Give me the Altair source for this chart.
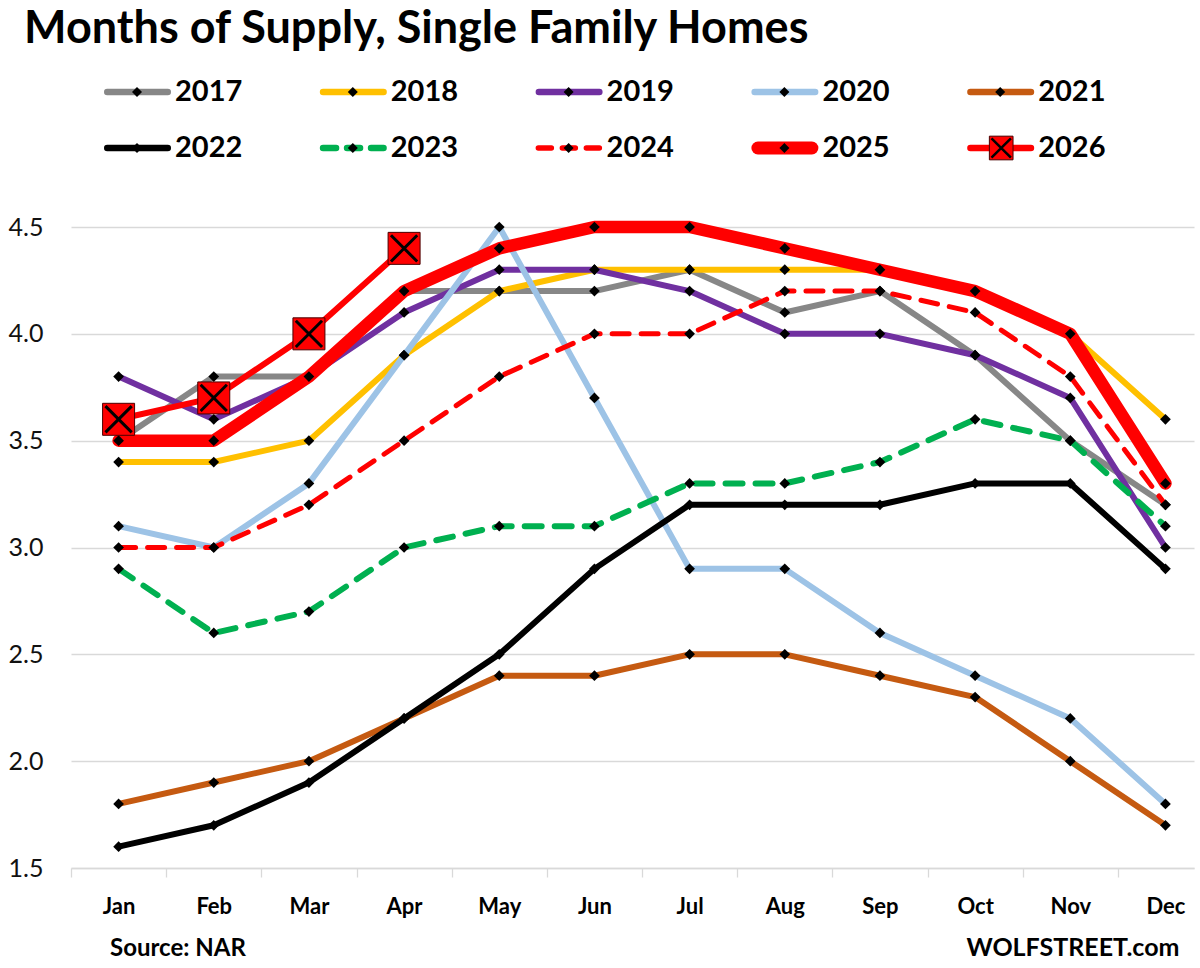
import altair as alt
import pandas as pd

# Months of supply of single-family homes, by year (NAR)
months = ["Jan", "Feb", "Mar", "Apr", "May", "Jun", "Jul", "Aug", "Sep", "Oct", "Nov", "Dec"]
years = ["2017", "2018", "2019", "2020", "2021", "2022", "2023", "2024", "2025", "2026"]

supply_2017 = [3.5, 3.8, 3.8, 4.2, 4.2, 4.2, 4.3, 4.1, 4.2, 3.9, 3.5, 3.2]
supply_2018 = [3.4, 3.4, 3.5, 3.9, 4.2, 4.3, 4.3, 4.3, 4.3, 4.2, 4.0, 3.6]
supply_2019 = [3.8, 3.6, 3.8, 4.1, 4.3, 4.3, 4.2, 4.0, 4.0, 3.9, 3.7, 3.0]
supply_2020 = [3.1, 3.0, 3.3, 3.9, 4.5, 3.7, 2.9, 2.9, 2.6, 2.4, 2.2, 1.8]
supply_2021 = [1.8, 1.9, 2.0, 2.2, 2.4, 2.4, 2.5, 2.5, 2.4, 2.3, 2.0, 1.7]
supply_2022 = [1.6, 1.7, 1.9, 2.2, 2.5, 2.9, 3.2, 3.2, 3.2, 3.3, 3.3, 2.9]
supply_2023 = [2.9, 2.6, 2.7, 3.0, 3.1, 3.1, 3.3, 3.3, 3.4, 3.6, 3.5, 3.1]
supply_2024 = [3.0, 3.0, 3.2, 3.5, 3.8, 4.0, 4.0, 4.2, 4.2, 4.1, 3.8, 3.2]
supply_2025 = [3.5, 3.5, 3.8, 4.2, 4.4, 4.5, 4.5, 4.4, 4.3, 4.2, 4.0, 3.3]
supply_2026 = [3.6, 3.7, 4.0, 4.4]

y_ticks = [1.5, 2.0, 2.5, 3.0, 3.5, 4.0, 4.5]

series = dict(zip(years, [supply_2017, supply_2018, supply_2019, supply_2020, supply_2021,
                          supply_2022, supply_2023, supply_2024, supply_2025, supply_2026]))

records = []
for yr in years:
    for i, v in enumerate(series[yr]):
        records.append({"year": yr, "month_num": i + 1, "month": months[i], "supply": v})
df = pd.DataFrame(records)

# legend grid: five columns, two rows
legend_df = pd.DataFrame({
    "year": years,
    "col": [0, 1, 2, 3, 4, 0, 1, 2, 3, 4],
    "row": [0, 0, 0, 0, 0, 1, 1, 1, 1, 1],
})

styles = {
    "2017": {"color": "#878787", "width": 6},
    "2018": {"color": "#FFC000", "width": 6},
    "2019": {"color": "#7030A0", "width": 6},
    "2020": {"color": "#9DC3E6", "width": 6},
    "2021": {"color": "#C55A11", "width": 6},
    "2022": {"color": "#000000", "width": 6},
    "2023": {"color": "#00B050", "width": 6, "dash": [17, 13]},
    "2024": {"color": "#FF0000", "width": 5, "dash": [17, 12]},
    "2025": {"color": "#FF0000", "width": 12.5},
    "2026": {"color": "#FF0000", "width": 6},
}

FONT = "Lato"
X_PATH = "M-0.82,-0.82L0.82,0.82M0.82,-0.82L-0.82,0.82"

# ---------------- main plot ----------------
W, H = 1123, 641
x_scale = alt.Scale(domain=[0.5, 12.3], nice=False, zero=False)
y_scale = alt.Scale(domain=[1.5, 4.5], nice=False, zero=False)

month_list = "[" + ",".join(f"'{m}'" for m in months) + "]"
x_axis = alt.Axis(
    values=[k / 2 for k in range(1, 25)],
    labelExpr=f"datum.value % 1 === 0 ? {month_list}[datum.value - 1] : ''",
    tickOpacity={"condition": {"test": "datum.value % 1 !== 0", "value": 1}, "value": 0},
    tickSize=9, tickWidth=1.3, tickColor="#d9d9d9",
    domain=True, domainColor="#d9d9d9", domainWidth=1.3,
    grid=False, labelOverlap=False, labelFlush=False,
    labelFont=FONT, labelFontSize=22, labelFontWeight="bold", labelColor="#000000",
    labelPadding=19, labelBaseline="top",
    title="WOLFSTREET.com", titleFont=FONT, titleFontSize=25, titleFontWeight="bold",
    titleColor="#000000", titleAlign="right", titleBaseline="alphabetic",
    titleX=1108, titleY=87,
)
y_axis = alt.Axis(
    values=y_ticks, format=".1f", title=None, ticks=False, domain=False,
    grid=True, gridColor="#d9d9d9", gridWidth=1.3,
    labelFont=FONT, labelFontSize=25, labelColor="#111111", labelPadding=28,
)

base = alt.Chart(df).encode(
    x=alt.X("month_num:Q", scale=x_scale, axis=x_axis),
    y=alt.Y("supply:Q", scale=y_scale, axis=y_axis),
)

layers = []
for yr in years:
    st = styles[yr]
    sel = base.transform_filter(alt.datum.year == yr)
    line_kw = dict(color=st["color"], strokeWidth=st["width"], strokeCap="round", strokeJoin="round")
    if "dash" in st:
        line_kw["strokeDash"] = st["dash"]
    layers.append(sel.mark_line(**line_kw))
    if yr == "2026":
        layers.append(sel.mark_point(shape="square", filled=True, fill="#FF0000", stroke="#4a0000",
                                     strokeWidth=1, size=1024, opacity=1))
        layers.append(sel.mark_point(shape=X_PATH, filled=False, color="#000000", strokeWidth=3,
                                     size=1024, opacity=1))
    else:
        layers.append(sel.mark_point(shape="diamond", filled=True, color="#000000", size=115, opacity=1))

main = alt.layer(*layers).properties(
    width=W, height=H,
    title=alt.TitleParams("Source: NAR", orient="bottom", anchor="start", frame="group",
                          font=FONT, fontSize=24, fontWeight="bold", color="#000000",
                          offset=0, dx=39, dy=-23),
)

# ---------------- legend ----------------
LW, LH = 1079, 112
lx = alt.Scale(domain=[0, 5], nice=False, zero=False)
ly = alt.Scale(domain=[-0.5, 1.5], reverse=True, nice=False, zero=False)
lbase = alt.Chart(legend_df).encode(
    x=alt.X("col:Q", scale=lx, axis=None),
    y=alt.Y("row:Q", scale=ly, axis=None),
)

leg_layers = []
for yr in years:
    st = styles[yr]
    w = st["width"] + 0.5
    kw = dict(color=st["color"], strokeWidth=w, strokeCap="round",
              xOffset=33 + w / 2, x2Offset=100 - w / 2)
    if "dash" in st:
        kw["strokeDash"] = [13, 11]
    leg_layers.append(lbase.transform_filter(alt.datum.year == yr).mark_rule(**kw).encode(x2="col:Q"))

leg_layers.append(lbase.transform_filter(alt.datum.year != "2026").mark_point(
    shape="diamond", filled=True, color="#000000", size=100, opacity=1, xOffset=66))
leg_layers.append(lbase.transform_filter(alt.datum.year == "2026").mark_point(
    shape="square", filled=True, fill="#FF0000", stroke="#4a0000", strokeWidth=1, size=560,
    opacity=1, xOffset=67))
leg_layers.append(lbase.transform_filter(alt.datum.year == "2026").mark_point(
    shape=X_PATH, filled=False, color="#000000", strokeWidth=2.5, size=560, opacity=1, xOffset=67))
leg_layers.append(lbase.mark_text(align="left", baseline="middle", font=FONT, fontSize=29,
                                  fontWeight="bold", color="#000000", xOffset=104).encode(text="year:N"))

legend = alt.layer(*leg_layers).properties(width=LW, height=LH)

chart = alt.vconcat(legend, main, spacing=51, bounds="flush").properties(
    title=alt.TitleParams("Months of Supply, Single Family Homes", anchor="start", font=FONT,
                          fontSize=45, fontWeight="bold", color="#000000", offset=12, dx=16),
    padding={"left": 8, "top": 7, "right": 3, "bottom": 0},
).configure(font=FONT).configure_view(stroke=None)

chart.save("out.html", embed_options={"renderer": "svg", "actions": False})
